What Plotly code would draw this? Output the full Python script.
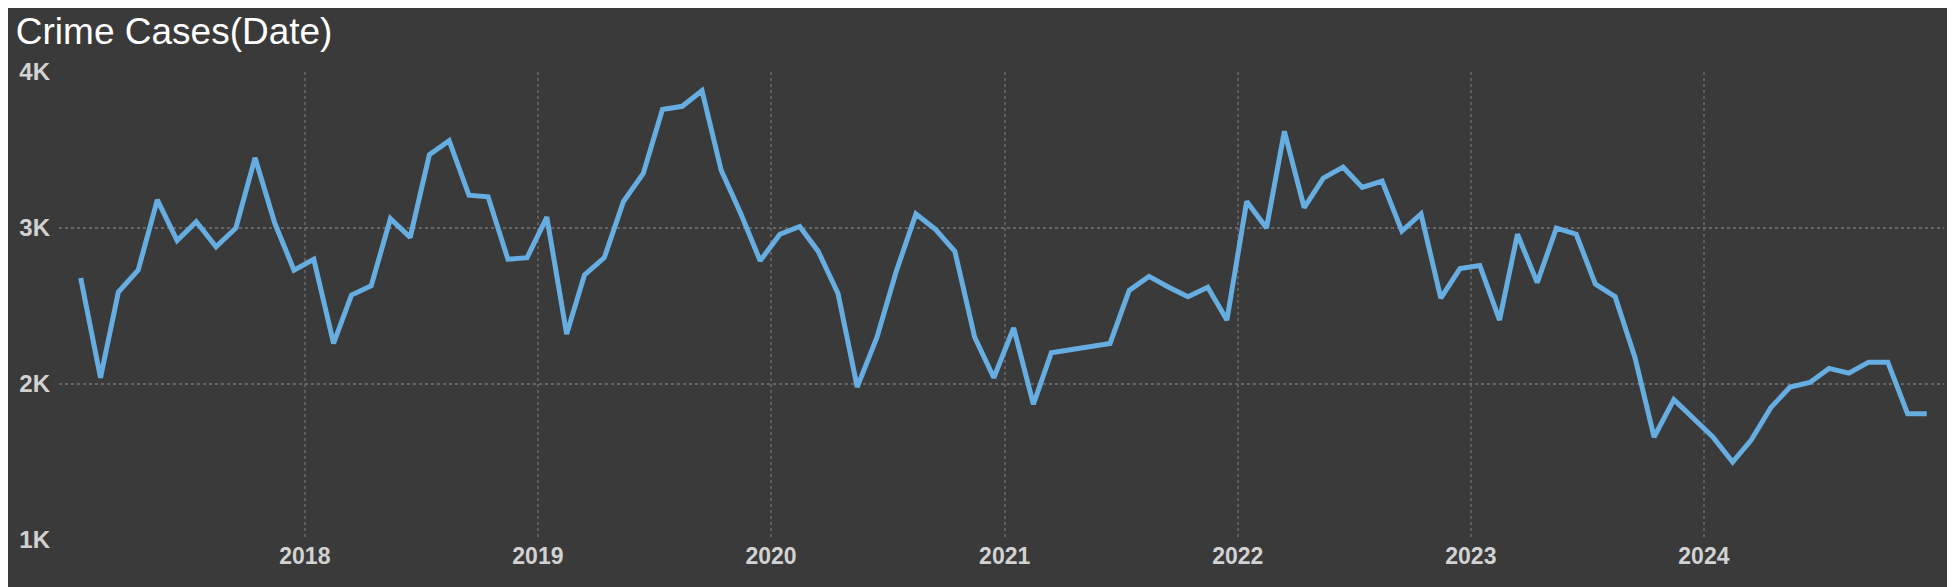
import plotly.graph_objects as go
import pandas as pd

dates = pd.date_range("2017-01-01", periods=96, freq="MS") + pd.Timedelta(days=14)
cases = [
    2680, 2040, 2590, 2730, 3180, 2920, 3040, 2880, 3000, 3450, 3030, 2730,
    2800, 2260, 2570, 2630, 3060, 2940, 3470, 3560, 3210, 3200, 2800, 2810,
    3070, 2320, 2700, 2810, 3170, 3350, 3760, 3780, 3880, 3370, 3090, 2790,
    2960, 3010, 2850, 2580, 1980, 2300, 2720, 3090, 2990, 2850, 2300, 2040,
    2360, 1870, 2200, 2220, 2240, 2260, 2600, 2690, 2620, 2560, 2620, 2410,
    3170, 3000, 3620, 3130, 3320, 3390, 3260, 3300, 2980, 3090, 2550, 2740,
    2760, 2410, 2960, 2650, 3000, 2960, 2640, 2560, 2170, 1660, 1900, 1780,
    1660, 1500, 1640, 1850, 1980, 2010, 2100, 2070, 2140, 2140, 1810, 1810,
]
year_ticks = ["2018-01-01", "2019-01-01", "2020-01-01", "2021-01-01",
              "2022-01-01", "2023-01-01", "2024-01-01"]
year_labels = ["2018", "2019", "2020", "2021", "2022", "2023", "2024"]
tick_vals = [1000, 2000, 3000, 4000]
tick_text = ["1K", "2K", "3K", "4K"]

fig = go.Figure(go.Scatter(x=dates, y=cases, mode="lines",
                           line=dict(color="#66ade2", width=5)))
fig.update_layout(
    width=1955, height=587,
    paper_bgcolor="#3a3a3a", plot_bgcolor="#3a3a3a",
    margin=dict(l=51, r=19, t=64, b=55),
    showlegend=False,
    title=dict(text="Crime Cases(Date)", x=0.004, xanchor="left", y=0.982, yanchor="top",
               font=dict(family="Liberation Sans, Arial", size=37, color="#ffffff")),
    font=dict(family="Liberation Sans, Arial"),
)
fig.update_xaxes(range=["2016-12-12", "2025-01-11"], tickvals=year_ticks, ticktext=year_labels,
                 showgrid=True, gridcolor="#5e5e5e", griddash="dot",
                 gridwidth=1.5, zeroline=False, showline=False, ticks="",
                 tickfont=dict(size=23, color="#d2d2d2", weight="bold"))
fig.update_yaxes(range=[1000, 4000], tickvals=tick_vals, ticktext=tick_text,
                 showgrid=True, gridcolor="#666666", griddash="dot", gridwidth=1.5,
                 zeroline=False, showline=False, ticks="", ticklabelstandoff=8,
                 tickfont=dict(size=24, color="#d2d2d2", weight="bold"))
fig.write_html("out.html")
